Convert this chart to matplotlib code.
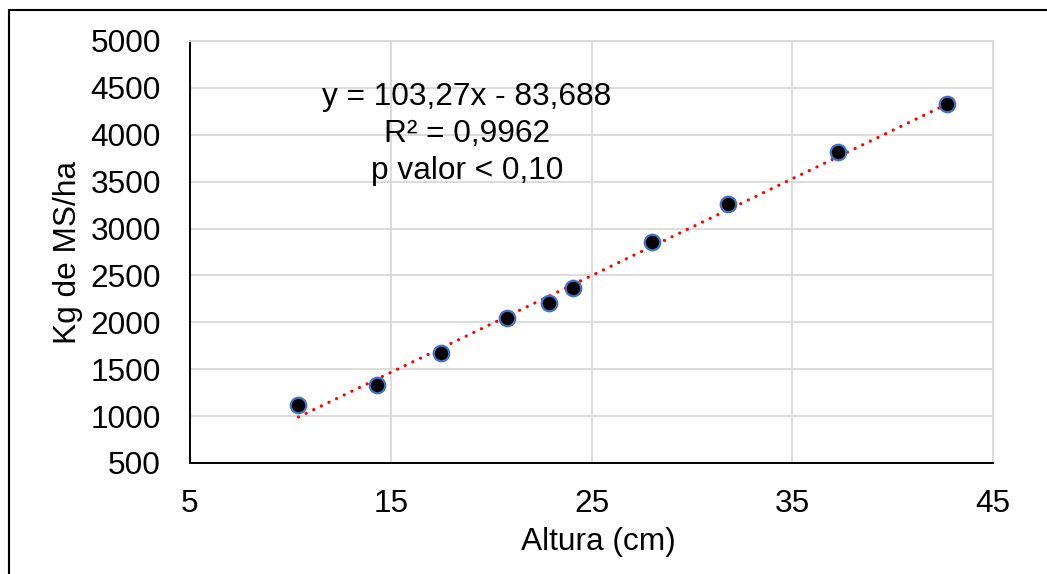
import numpy as np
import matplotlib.pyplot as plt
from matplotlib.patches import Rectangle

# data
altura = [10.4, 14.3, 17.5, 20.8, 22.9, 24.1, 28.0, 31.8, 37.3, 42.7]
kg_ms = [1120, 1335, 1675, 2050, 2205, 2370, 2860, 3260, 3815, 4325]

slope = 103.27
intercept = -83.688

x_ticks = [5, 15, 25, 35, 45]
y_ticks = [500, 1000, 1500, 2000, 2500, 3000, 3500, 4000, 4500, 5000]

eq_lines = ["y = 103,27x - 83,688", "R² = 0,9962", "p valor < 0,10"]

plt.rcParams["font.family"] = ["Liberation Sans", "DejaVu Sans"]
FS = 22.8

fig = plt.figure(figsize=(10.47, 5.74), dpi=100)
ax = fig.add_axes([190 / 1047, 1 - 463 / 574, (993 - 190) / 1047, (463 - 41) / 574])

# outer frame of the chart area (cut off at right/bottom in the original)
fig.patches.append(Rectangle((9 / 1047, -0.05), 1.1, 1 - 10 / 574 + 0.05,
                             transform=fig.transFigure, fill=False,
                             edgecolor="black", linewidth=1.5))

xs = np.array([min(altura), max(altura)])
ax.plot(xs, slope * xs + intercept, color="#FF0000", linewidth=2.3,
        linestyle=(0, (0.05, 2.6)), dash_capstyle="round", zorder=2)
ax.scatter(altura, kg_ms, s=125, facecolor="black", edgecolor="#4472C4",
           linewidth=1.6, zorder=3)

ax.set_xlim(5, 45)
ax.set_ylim(500, 5000)
ax.set_xticks(x_ticks)
ax.set_yticks(y_ticks)
ax.tick_params(length=0, labelsize=FS)
ax.tick_params(axis="x", pad=19)
ax.tick_params(axis="y", pad=21)

ax.grid(True, color="#D9D9D9", linewidth=1.3)
ax.set_axisbelow(True)
for side in ["top", "right"]:
    ax.spines[side].set_color("#D9D9D9")
    ax.spines[side].set_linewidth(1.3)
for side in ["left", "bottom"]:
    ax.spines[side].set_color("black")
    ax.spines[side].set_linewidth(1.4)

ax.set_xlabel("Altura (cm)", fontsize=FS)
ax.xaxis.set_label_coords(0.509, -0.152)
ax.set_ylabel("Kg de MS/ha", fontsize=FS, labelpad=5)

for i, line in enumerate(eq_lines):
    fig.text(467 / 1047, 1 - (97 + 37 * i) / 574, line, fontsize=FS,
             ha="center", va="center")

fig.savefig("out.png", dpi=100)
